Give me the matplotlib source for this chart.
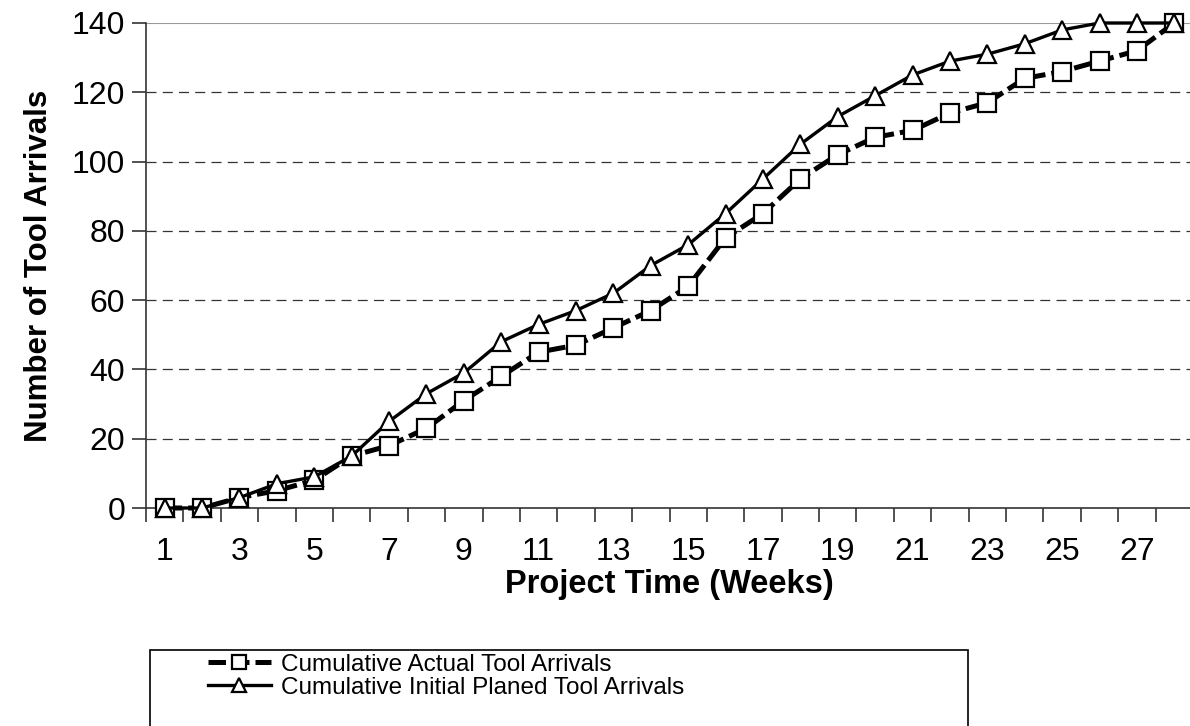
import matplotlib.pyplot as plt
from matplotlib.patches import Rectangle

plt.rcParams['font.family'] = ['Liberation Sans', 'DejaVu Sans']

weeks = list(range(1, 29))
actual = [0, 0, 3, 5, 8, 15, 18, 23, 31, 38, 45, 47, 52, 57, 64, 78, 85, 95,
          102, 107, 109, 114, 117, 124, 126, 129, 132, 140]
planned = [0, 0, 3, 7, 9, 15, 25, 33, 39, 48, 53, 57, 62, 70, 76, 85, 95, 105,
           113, 119, 125, 129, 131, 134, 138, 140, 140, 140]
x_tick_labels = [str(w) for w in weeks[::2]]
y_ticks = [0, 20, 40, 60, 80, 100, 120, 140]

W, H = 1190, 726
fig = plt.figure(figsize=(W / 100, H / 100), dpi=100)
# axes runs a little past the right edge of the picture, as in the original
ax = fig.add_axes([146 / W, 1 - 508 / H, (1193 - 146) / W, (508 - 23) / H])

for y in y_ticks[1:-1]:
    ax.axhline(y, color="#333333", lw=0.9, ls=(0, (8, 5)), zorder=1)
ax.axhline(140, color="#999999", lw=1.5, zorder=1)

ax.plot(weeks, actual, color="black", lw=3.6, ls=(0, (3.5, 1.2)),
        marker="s", ms=12.5, mfc="white", mec="black", mew=1.6,
        label="Cumulative Actual Tool Arrivals", zorder=3, clip_on=False)
ax.plot(weeks, planned, color="black", lw=2.4, ls="-",
        marker="^", ms=13, mfc="white", mec="black", mew=1.6,
        label="Cumulative Initial Planed Tool Arrivals", zorder=4, clip_on=False)

ax.set_xlim(0.5, 28.5)
ax.set_ylim(0, 140)
ax.set_yticks(y_ticks)
ax.set_xticks(weeks[::2])
ax.set_xticklabels(x_tick_labels)
ax.set_xticks([w + 0.5 for w in range(0, 29)], minor=True)
ax.tick_params(axis="x", which="major", length=0, labelsize=23, pad=21)
ax.tick_params(axis="x", which="minor", length=10, width=1.2, color="#333333")
ax.tick_params(axis="y", length=10, width=1.2, color="#333333", labelsize=23, pad=5)

for side in ["top", "right"]:
    ax.spines[side].set_visible(False)
ax.spines["left"].set_color("#333333")
ax.spines["bottom"].set_color("#333333")
ax.spines["left"].set_linewidth(1.2)
ax.spines["bottom"].set_linewidth(1.2)

ax.set_xlabel("Project Time (Weeks)", fontsize=23.5, fontweight="bold", labelpad=1)
ax.set_ylabel("Number of Tool Arrivals", fontsize=22.5, fontweight="bold", labelpad=13)

# legend box at the bottom, partly cut off by the image edge
fig.patches.append(Rectangle((150 / W, 1 - 760 / H), (968 - 150) / W, 110 / H,
                             transform=fig.transFigure, fill=False,
                             edgecolor="black", lw=1.2))
fig.legend(loc="upper left", bbox_to_anchor=(198 / W, 1 - 644 / H),
           frameon=False, fontsize=17.5, handlelength=2.6, handletextpad=0.4,
           labelspacing=0.05, borderaxespad=0, markerscale=0.75)

fig.savefig("out.png", dpi=100)
